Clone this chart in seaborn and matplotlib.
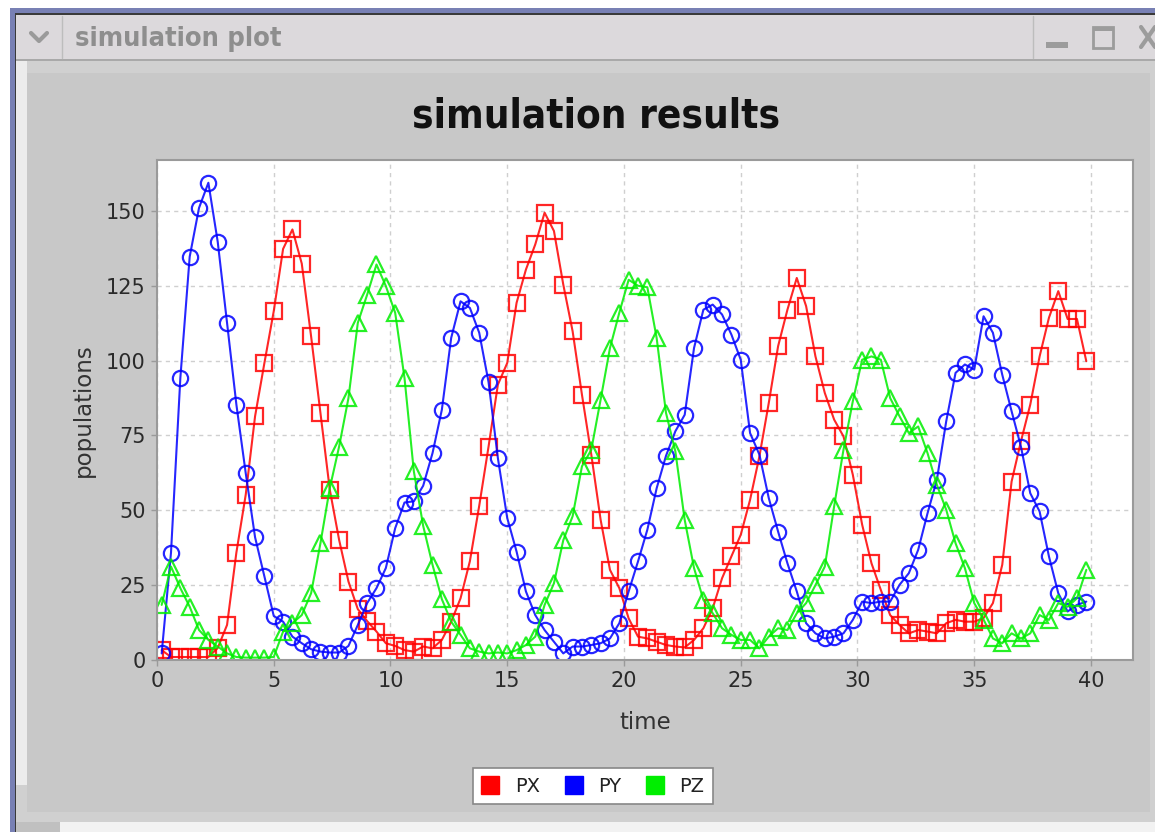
import matplotlib
matplotlib.use("Agg")
import matplotlib.pyplot as plt
from matplotlib.patches import Rectangle
from matplotlib.lines import Line2D
import seaborn as sns
import pandas as pd

# ---------------- data ----------------
time = [0.2, 0.6, 1.0, 1.4, 1.8, 2.2, 2.6, 3.0, 3.4, 3.8,
        4.2, 4.6, 5.0, 5.4, 5.8, 6.2, 6.6, 7.0, 7.4, 7.8,
        8.2, 8.6, 9.0, 9.4, 9.8, 10.2, 10.6, 11.0, 11.4, 11.8,
        12.2, 12.6, 13.0, 13.4, 13.8, 14.2, 14.6, 15.0, 15.4, 15.8,
        16.2, 16.6, 17.0, 17.4, 17.8, 18.2, 18.6, 19.0, 19.4, 19.8,
        20.2, 20.6, 21.0, 21.4, 21.8, 22.2, 22.6, 23.0, 23.4, 23.8,
        24.2, 24.6, 25.0, 25.4, 25.8, 26.2, 26.6, 27.0, 27.4, 27.8,
        28.2, 28.6, 29.0, 29.4, 29.8, 30.2, 30.6, 31.0, 31.4, 31.8,
        32.2, 32.6, 33.0, 33.4, 33.8, 34.2, 34.6, 35.0, 35.4, 35.8,
        36.2, 36.6, 37.0, 37.4, 37.8, 38.2, 38.6, 39.0, 39.4, 39.8]

px = [3.3, 1, 1, 1, 1, 1, 4, 11.7, 35.9, 55.2,
      81.4, 99.2, 116.5, 137.3, 143.8, 132.4, 108.1, 82.5, 56.9, 40.1,
      26.2, 17, 13, 9.5, 5.6, 4.7, 3.3, 2.8, 4.5, 3.9,
      6.7, 12.8, 20.6, 33, 51.5, 71.3, 92, 99.2, 119.3, 130.4,
      138.8, 149.4, 143.3, 125.4, 109.8, 88.6, 68.6, 46.8, 30.1, 24,
      13.9, 7.8, 7.2, 6.1, 5, 4.5, 4.2, 6.7, 10.6, 17.3,
      27.3, 34.6, 41.8, 53.5, 68, 85.8, 104.8, 117, 127.6, 118.2,
      101.4, 89.2, 80.3, 74.7, 61.9, 45.2, 32.3, 23.4, 15, 11.7,
      8.9, 10, 9.5, 8.9, 12.3, 13.4, 12.8, 12.8, 14, 19,
      31.8, 59.6, 73, 85.3, 101.4, 114.3, 123.2, 113.9, 113.9, 99.8]

py = [2.2, 35.9, 94.2, 134.7, 151, 159.4, 139.7, 112.6, 85.3, 62.4,
      41, 27.9, 14.7, 12.8, 7.8, 5.6, 3.6, 2.8, 2.5, 2.5,
      4.7, 11.7, 19, 24, 30.7, 44, 52.6, 53, 58.2, 69.1,
      83.6, 107.6, 119.8, 117.6, 109.3, 92.8, 67.4, 47.4, 36.2, 22.9,
      15, 10, 6.1, 2.2, 4.5, 4.5, 5, 5.6, 7.2, 12.3,
      22.9, 32.9, 43.5, 57.4, 68.2, 76.4, 81.9, 104.2, 117, 118.7,
      115.4, 108.7, 100.3, 75.8, 68.6, 54.1, 42.9, 32.3, 22.9, 12.3,
      8.9, 7.2, 7.8, 8.9, 13.4, 19.5, 19, 19.5, 19.5, 25.1,
      29, 36.8, 49, 60.2, 79.7, 95.9, 98.7, 97, 114.8, 109.3,
      95.3, 83.1, 71.3, 55.7, 49.6, 34.6, 22.3, 16.2, 18.4, 19.5]

pz = [18.4, 31.2, 24, 17.8, 10, 6.7, 4.5, 2.2, 1, 0.8,
      0.8, 0.8, 1, 9.5, 12.3, 15, 22.3, 39, 57.4, 71.3,
      87.5, 112.6, 122, 132.1, 124.9, 116, 94.2, 63, 44.8, 31.8,
      20.3, 12.8, 8.4, 3.9, 2.8, 2.2, 2.5, 2.2, 3.3, 5,
      7.8, 18.4, 25.6, 40, 48, 64.7, 70.2, 87, 104.2, 116,
      127, 125, 124.5, 107.5, 82.5, 69.7, 46.8, 30.7, 20.1, 15.6,
      10.6, 8.4, 6.7, 6.7, 3.9, 7.8, 10.6, 10, 15.6, 19,
      25, 31.2, 51.3, 70.2, 86.4, 100.3, 101.4, 100.3, 87.5, 81.4,
      75.8, 78, 69.1, 58.5, 50.2, 39, 30.7, 19, 13.5, 7.2,
      5.6, 8.9, 7.2, 8.9, 15, 13.4, 19, 17.8, 20.6, 30.1]

series_names = ["PX", "PY", "PZ"]
x_ticks = [0, 5, 10, 15, 20, 25, 30, 35, 40]
y_ticks = [0, 25, 50, 75, 100, 125, 150]

# ---------------- styling ----------------
colors = {"PX": "#ff0000", "PY": "#0000ff", "PZ": "#00ee00"}
markers = {"PX": "s", "PY": "o", "PZ": "^"}

sns.set_theme(style="white")
plt.rcParams["font.family"] = ["DejaVu Sans"]

W, H = 1155, 832
fig = plt.figure(figsize=(W / 100, H / 100), dpi=100)
fig.patch.set_facecolor("white")


def rect(x0, y0, x1, y1, color, z=-10, ec="none", lw=0, fill=True):
    fig.add_artist(Rectangle((x0 / W, 1 - y1 / H), (x1 - x0) / W, (y1 - y0) / H,
                             transform=fig.transFigure, facecolor=color if fill else "none",
                             edgecolor=ec, linewidth=lw, zorder=z))


def fline(xs, ys, color, lw, z=-5):
    fig.add_artist(Line2D([x / W for x in xs], [1 - y / H for y in ys],
                          transform=fig.transFigure, color=color, linewidth=lw,
                          zorder=z, solid_capstyle="round"))


# window chrome
rect(10, 8, W, H, "#7880b4", z=-20)
rect(15, 13, W, H, "#3a3a3a", z=-19)
rect(16, 15, W, 60, "#dcd9dc", z=-18)
rect(16, 59, W, 61, "#a9a9a9", z=-17)
rect(16, 61, W, H, "#d0d0d0", z=-18)
rect(16, 61, 27, 785, "#ececec", z=-17)
rect(27, 73, 1150, 812, "#c8c8c8", z=-17)
rect(60, 822, W, H, "#f2f2f2", z=-16)
rect(16, 822, 60, H, "#c0c0c0", z=-16)
fline([62, 62], [16, 58], "#bdbdbd", 1.0)
fline([1033, 1033], [16, 58], "#bdbdbd", 1.0)
# title-bar icons
fline([31, 39, 47], [33, 41, 33], "#9a9a9a", 3.0)
rect(1046, 42, 1068, 48, "#9c9c9c", z=-5)
rect(1093, 27, 1113, 48, "#9c9c9c", z=-5, ec="#9c9c9c", lw=2.0, fill=False)
rect(1093, 27, 1113, 31, "#9c9c9c", z=-5)
fline([1141, 1155], [27, 47], "#9c9c9c", 3.0)
fline([1141, 1155], [47, 27], "#9c9c9c", 3.0)
fig.text(75 / W, 1 - 39 / H, "simulation plot", ha="left", va="center",
         fontsize=19.5, fontweight="bold", color="#8e8e8e", fontstretch="condensed")

# main title
fig.text(596 / W, 1 - 117 / H, "simulation results", ha="center", va="center",
         fontsize=29, fontweight="bold", color="#111111", fontstretch="condensed")

# ---------------- axes ----------------
ax = fig.add_axes([157 / W, 1 - 660 / H, (1133 - 157) / W, (660 - 160) / H])
ax.set_facecolor("white")

df = pd.DataFrame({"time": time * 3,
                   "value": px + py + pz,
                   "series": ["PX"] * len(px) + ["PY"] * len(py) + ["PZ"] * len(pz)})

for name in series_names:
    sub = df[df["series"] == name]
    sns.lineplot(data=sub, x="time", y="value", ax=ax, color=colors[name],
                 marker=markers[name], markersize=11, markerfacecolor="none",
                 markeredgecolor=colors[name], markeredgewidth=1.6,
                 linewidth=1.5, estimator=None, sort=False, legend=False,
                 alpha=0.85)

ax.set_xlim(0, 41.8)
ax.set_ylim(0, 167)
ax.set_xticks(x_ticks)
ax.set_yticks(y_ticks)
ax.set_xticklabels([str(v) for v in x_ticks])
ax.set_yticklabels([str(v) for v in y_ticks])
ax.grid(True, color="#cfcfcf", linestyle=(0, (3, 3)), linewidth=1.0)
ax.set_axisbelow(True)
for s in ax.spines.values():
    s.set_color("#9a9a9a")
    s.set_linewidth(1.5)
ax.tick_params(axis="both", which="major", direction="out", length=4, width=1,
               color="#9a9a9a", labelsize=15, labelcolor="#2a2a2a", pad=4,
               bottom=True, left=True)
ax.set_xlabel("time", fontsize=16.5, color="#333333", labelpad=14)
ax.set_ylabel("populations", fontsize=16.5, color="#333333", labelpad=8)

# ---------------- legend ----------------
handles = [Line2D([0], [0], marker="s", linestyle="none", markersize=13,
                  markerfacecolor=colors[n], markeredgecolor=colors[n]) for n in series_names]
leg = fig.legend(handles, series_names, loc="center", bbox_to_anchor=(593 / W, 1 - 786 / H),
                 ncol=3, frameon=True, fancybox=False, framealpha=1, fontsize=14,
                 handlelength=0.9, handletextpad=0.8, columnspacing=1.3,
                 borderpad=0.45)
leg.get_frame().set_edgecolor("#888888")
leg.get_frame().set_linewidth(1.2)
for t in leg.get_texts():
    t.set_color("#222222")

fig.savefig("out.png", dpi=100)
